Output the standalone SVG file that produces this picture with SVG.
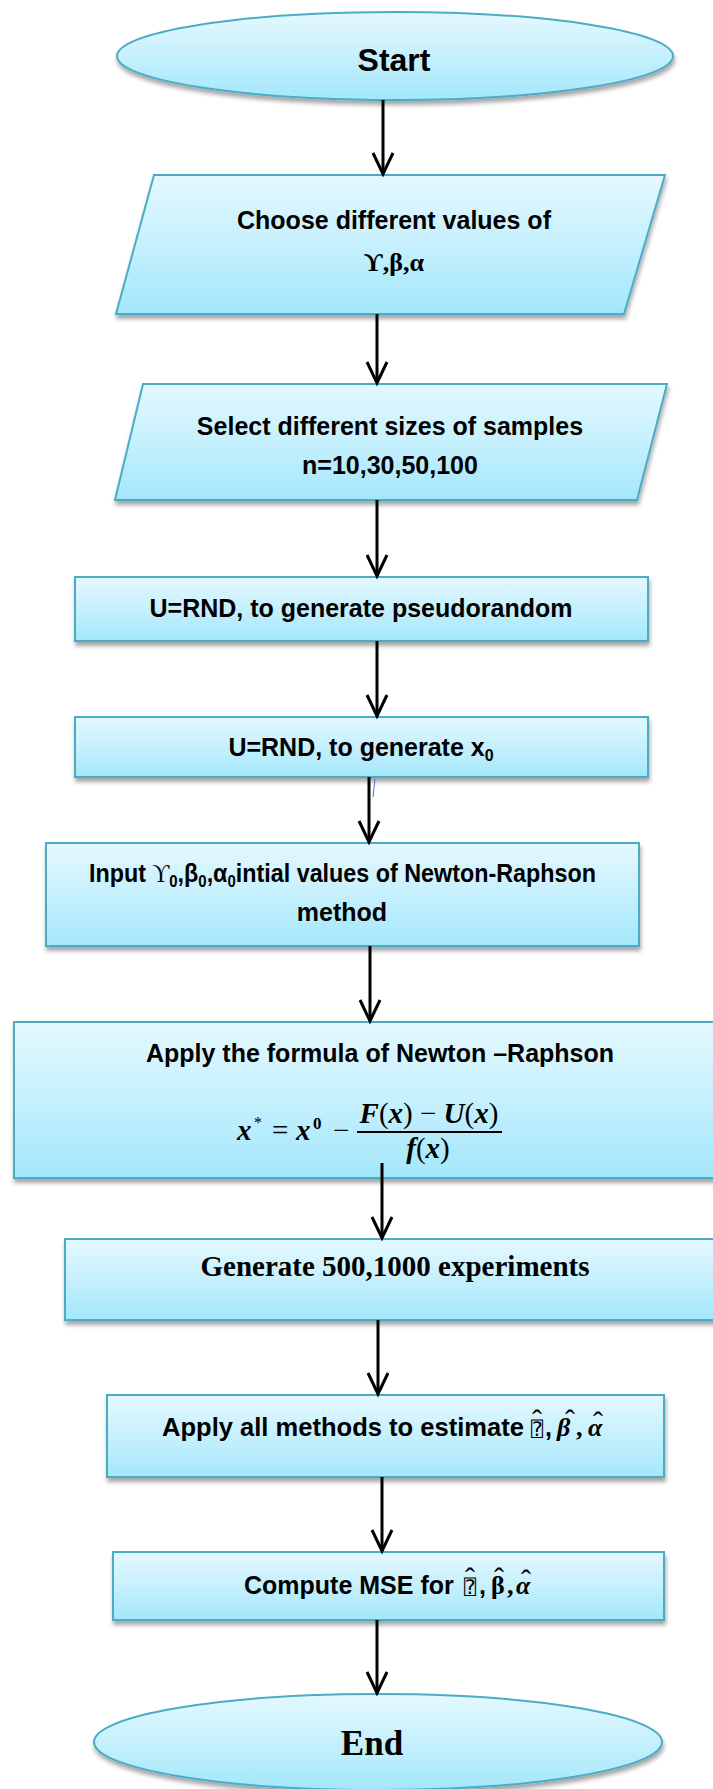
<svg xmlns="http://www.w3.org/2000/svg" width="713" height="1789" viewBox="0 0 713 1789">
<style>
.node{fill:url(#g);stroke:#4bacc6;stroke-width:2;filter:url(#sh)}
.t{font-family:"Liberation Sans",Arial,sans-serif;font-weight:bold;font-size:25px;fill:#000;text-anchor:middle}
.ts{font-family:"Liberation Sans",Arial,sans-serif;font-weight:bold;font-size:25px;fill:#000;font-style:normal}
.sr{font-family:"Liberation Serif","DejaVu Serif",serif;font-weight:bold;font-style:normal}
.m{font-family:"Liberation Serif","DejaVu Serif",serif;font-weight:bold;font-style:italic;fill:#000}
.n{font-family:"Liberation Serif","DejaVu Serif",serif;font-weight:normal;font-style:normal;fill:#000}
.q{font-family:"DejaVu Sans Mono","DejaVu Sans",monospace;font-weight:normal;font-style:normal;font-size:20px}
.hat{font-family:"Liberation Serif","DejaVu Serif",serif;font-weight:normal;font-style:normal;font-size:30px}
.c{stroke:#000;stroke-width:3;fill:none;marker-end:url(#ah)}
</style>
<defs>
<linearGradient id="g" x1="0" y1="0" x2="0" y2="1">
<stop offset="0" stop-color="#e4f8fe"/>
<stop offset="0.5" stop-color="#c6f0fd"/>
<stop offset="1" stop-color="#a3e7fb"/>
</linearGradient>
<filter id="sh" x="-5%" y="-10%" width="115%" height="130%">
<feDropShadow dx="1" dy="4" stdDeviation="2" flood-color="#000" flood-opacity="0.35"/>
</filter>
<marker id="ah" markerUnits="userSpaceOnUse" markerWidth="30" markerHeight="30" viewBox="-25 -15 30 30" refX="0" refY="0" orient="auto" overflow="visible">
<path d="M-21,-10 L0,0 L-21,10" fill="none" stroke="#000" stroke-width="3" stroke-linejoin="miter"/>
</marker>
</defs>
<rect width="713" height="1789" fill="#fff"/>

<g id="start">
<ellipse class="node" cx="395" cy="56" rx="278" ry="44"/>
<text class="t" x="394" y="71" style="font-size:32px">Start</text>
</g>

<g id="choose">
<polygon class="node" points="154,175 665,175 624,314 116,314"/>
<text class="t" x="394" y="229">Choose different values of</text>
<text class="t sr" x="394" y="271" style="font-size:26px">ϒ,β,α</text>
</g>

<g id="select">
<polygon class="node" points="143,384 667,384 637,500 115,500"/>
<text class="t" x="390" y="435">Select different sizes of samples</text>
<text class="t" x="390" y="474">n=10,30,50,100</text>
</g>

<g id="rnd1">
<rect class="node" x="75" y="577" width="573" height="64"/>
<text class="t" x="361" y="617">U=RND, to generate pseudorandom</text>
</g>

<g id="rnd2">
<rect class="node" x="75" y="717" width="573" height="60"/>
<text class="t" x="361" y="756">U=RND, to generate x<tspan dy="5" style="font-size:16px">0</tspan></text>
</g>

<g id="input">
<rect class="node" x="46" y="843" width="593" height="103"/>
<text class="ts" x="89" y="882" textLength="507" lengthAdjust="spacingAndGlyphs">Input <tspan class="sr" style="font-weight:normal">ϒ</tspan><tspan dy="5" style="font-size:16px">0</tspan><tspan dy="-5">,β</tspan><tspan dy="5" style="font-size:16px">0</tspan><tspan dy="-5">,α</tspan><tspan dy="5" style="font-size:16px">0</tspan><tspan dy="-5">intial values of Newton-Raphson</tspan></text>
<text class="t" x="342" y="921">method</text>
</g>

<g id="apply">
<rect class="node" x="14" y="1022" width="710" height="156"/>
<text class="t" x="380" y="1062">Apply the formula of Newton –Raphson</text>
<text class="m" style="font-size:29px"><tspan x="237" y="1140">x</tspan><tspan class="n" x="254" y="1128" style="font-size:16px">*</tspan><tspan class="n" x="272" y="1140">=</tspan><tspan x="296" y="1140">x</tspan><tspan class="sr" x="313" y="1129" style="font-size:17px">0</tspan><tspan class="n" x="333" y="1140">−</tspan></text>
<line x1="357" y1="1132" x2="502" y2="1132" stroke="#000" stroke-width="2"/>
<text class="m" x="429" y="1123" text-anchor="middle" style="font-size:29px">F<tspan class="n">(</tspan>x<tspan class="n">) − </tspan>U<tspan class="n">(</tspan>x<tspan class="n">)</tspan></text>
<text class="m" x="428" y="1158" text-anchor="middle" style="font-size:29px">f<tspan class="n">(</tspan>x<tspan class="n">)</tspan></text>
</g>

<g id="generate">
<rect class="node" x="65" y="1239" width="660" height="81"/>
<text class="t sr" x="395" y="1276" style="font-size:29px">Generate 500,1000 experiments</text>
</g>

<g id="estimate">
<rect class="node" x="107" y="1395" width="557" height="82"/>
<text class="ts" x="162" y="1436" textLength="362" lengthAdjust="spacingAndGlyphs">Apply all methods to estimate</text>
<text class="m" style="font-size:26px"><tspan class="q" x="531" y="1436">⍰</tspan><tspan class="hat" x="532" y="1430">ˆ</tspan><tspan class="ts" x="545" y="1436">,</tspan><tspan x="557" y="1436">β</tspan><tspan class="hat" x="565" y="1430">ˆ</tspan><tspan class="sr" x="576" y="1436">,</tspan><tspan x="588" y="1436">α</tspan><tspan class="hat" x="593" y="1432">ˆ</tspan></text>
</g>

<g id="mse">
<rect class="node" x="113" y="1552" width="551" height="68"/>
<text class="ts" x="244" y="1594">Compute MSE for</text>
<text class="m" style="font-size:26px"><tspan class="q" x="464" y="1594">⍰</tspan><tspan class="hat" x="465" y="1588">ˆ</tspan><tspan class="ts" x="479" y="1594">,</tspan><tspan class="sr" x="491" y="1594">β</tspan><tspan class="hat" x="494" y="1588">ˆ</tspan><tspan class="sr" x="507" y="1594">,</tspan><tspan x="516" y="1594">α</tspan><tspan class="hat" x="521" y="1590">ˆ</tspan></text>
</g>

<g id="end">
<ellipse class="node" cx="378" cy="1742" rx="284" ry="48"/>
<text class="t sr" x="372" y="1755" style="font-size:35px">End</text>
</g>

<g id="connectors">
<line class="c" x1="383" y1="100" x2="383" y2="174"/>
<line class="c" x1="377" y1="314" x2="377" y2="383"/>
<line class="c" x1="377" y1="500" x2="377" y2="576"/>
<line class="c" x1="377" y1="641" x2="377" y2="716"/>
<line class="c" x1="369" y1="777" x2="369" y2="842"/>
<line x1="375" y1="779" x2="373" y2="797" stroke="#4472c4" stroke-width="1"/>
<line class="c" x1="370" y1="946" x2="370" y2="1021"/>
<line class="c" x1="382" y1="1163" x2="382" y2="1238"/>
<line class="c" x1="378" y1="1320" x2="378" y2="1394"/>
<line class="c" x1="382" y1="1477" x2="382" y2="1551"/>
<line class="c" x1="377" y1="1620" x2="377" y2="1693"/>
</g>
</svg>
